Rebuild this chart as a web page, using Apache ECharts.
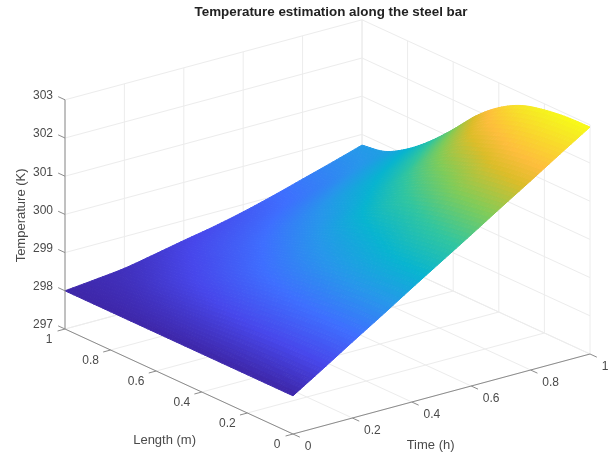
<!DOCTYPE html>
<html>
<head>
<meta charset="utf-8">
<style>
html,body{margin:0;padding:0;background:#fff}
#chart{width:615px;height:457px;filter:blur(0.6px)}
</style>
<script src="https://cdn.jsdelivr.net/npm/echarts@6/dist/echarts.min.js"></script>
</head>
<body>
<div id="chart"></div>
<script>
const titleText = 'Temperature estimation along the steel bar';
const timeName = 'Time (h)';
const lengthName = 'Length (m)';
const tempName = 'Temperature (K)';

const times = [0, 0.1, 0.2, 0.3, 0.4, 0.5, 0.6, 0.7, 0.8, 0.9, 1];
const lengths = [0, 0.1, 0.2, 0.3, 0.4, 0.5, 0.6, 0.7, 0.8, 0.9, 1];
const tempL00 = [298, 298.49, 298.99, 299.48, 299.98, 300.47, 300.96, 301.46, 301.95, 302.45, 302.94];
const tempL01 = [298, 298.47, 298.97, 299.46, 299.94, 300.39, 300.86, 301.36, 301.87, 302.39, 302.92];
const tempL02 = [298, 298.45, 298.93, 299.41, 299.87, 300.28, 300.72, 301.25, 301.74, 302.28, 302.84];
const tempL03 = [298, 298.42, 298.88, 299.32, 299.75, 300.12, 300.54, 301.05, 301.51, 302.08, 302.68];
const tempL04 = [298, 298.38, 298.81, 299.22, 299.6, 299.95, 300.38, 300.8, 301.28, 301.82, 302.35];
const tempL05 = [298, 298.33, 298.72, 299.09, 299.42, 299.75, 300.12, 300.46, 300.9, 301.35, 301.86];
const tempL06 = [298, 298.28, 298.61, 298.93, 299.21, 299.51, 299.8, 300.12, 300.44, 300.82, 301.23];
const tempL07 = [298, 298.22, 298.5, 298.76, 299, 299.27, 299.54, 299.82, 300.08, 300.34, 300.65];
const tempL08 = [298, 298.16, 298.39, 298.6, 298.82, 299.02, 299.25, 299.48, 299.72, 299.96, 300.17];
const tempL09 = [298, 298.11, 298.27, 298.46, 298.65, 298.82, 298.99, 299.18, 299.39, 299.62, 299.83];
const tempL10 = [298, 298.08, 298.17, 298.32, 298.48, 298.63, 298.81, 299.02, 299.25, 299.48, 299.72];
const tempRows = [tempL00, tempL01, tempL02, tempL03, tempL04, tempL05, tempL06, tempL07, tempL08, tempL09, tempL10];

const timeTicks = [0, 0.2, 0.4, 0.6, 0.8, 1];
const timeLabels = ['0', '0.2', '0.4', '0.6', '0.8', '1'];
const lengthTicks = [0, 0.2, 0.4, 0.6, 0.8, 1];
const lengthLabels = ['0', '0.2', '0.4', '0.6', '0.8', '1'];
const tempTicks = [297, 298, 299, 300, 301, 302, 303];
const tempLabels = ['297', '298', '299', '300', '301', '302', '303'];

// parula colormap stops
const parula = [[.2422,.1504,.6603],[.2803,.2782,.9221],[.2440,.4358,.9988],[.1540,.5902,.9218],[.0297,.7082,.8163],[.1938,.7758,.6251],[.5044,.7993,.3480],[.8634,.7406,.1596],[.9956,.7434,.2371],[.9786,.8386,.1766],[.9628,.9373,.1265],[.9769,.9839,.0805]];
const parulaPos = [0, 7/63, 14/63, 21/63, 28/63, 35/63, 42/63, 49/63, 53/63, 57/63, 61/63, 1];
const TMIN = 298, TMAX = 302.94, Z0 = 297;

function color(T) {
  const c = Math.max(0, Math.min(1, (T - TMIN) / (TMAX - TMIN)));
  let k = 0;
  while (k < parulaPos.length - 2 && c > parulaPos[k + 1]) k++;
  const f = (c - parulaPos[k]) / (parulaPos[k + 1] - parulaPos[k]);
  const a = parula[k], b = parula[k + 1];
  return 'rgb(' + [0, 1, 2].map(i => Math.round(255 * (a[i] + (b[i] - a[i]) * f))).join(',') + ')';
}
// orthographic 3D view onto the hidden 2D axes
function project(t, l, T) {
  return [(297 * t + 228 * (1 - l)) / 525, (80 * t + 105 * l + (T - Z0) * 38.2) / 413];
}
function cr(p0, p1, p2, p3, u) {
  return 0.5 * (2 * p1 + (p2 - p0) * u + (2 * p0 - 5 * p1 + 4 * p2 - p3) * u * u + (3 * p1 - p0 - 3 * p2 + p3) * u * u * u);
}
// neighbour of a grid line, continued straight past the ends
function ext(arr, i) {
  const n = arr.length;
  if (i < 0) return 2 * arr[0] - arr[1];
  if (i >= n) return 2 * arr[n - 1] - arr[n - 2];
  return arr[i];
}
function rowAt(j, i, u) {
  const r = tempRows[j];
  return cr(ext(r, i - 1), r[i], r[i + 1], ext(r, i + 2), u);
}
function shade(i, j, u, v) {
  const c1 = rowAt(j, i, u), c2 = rowAt(j + 1, i, u);
  const c0 = j > 0 ? rowAt(j - 1, i, u) : 2 * c1 - c2;
  const c3 = j + 2 < tempRows.length ? rowAt(j + 2, i, u) : 2 * c2 - c1;
  return cr(c0, c1, c2, c3, v);
}

const SUB = 8;
const surfaceData = [];
for (let j = lengths.length - 2; j >= 0; j--) {
  for (let i = times.length - 2; i >= 0; i--) {
    surfaceData.push([i, j, tempRows[j][i]]);
  }
}
function renderSurface(params, api) {
  const i = api.value(0), j = api.value(1);
  const t0 = times[i], t1 = times[i + 1], l0 = lengths[j], l1 = lengths[j + 1];
  const children = [];
  const P = (a, b) => {
    const T = shade(i, j, a / SUB, b / SUB);
    const t = t0 + (t1 - t0) * a / SUB, l = l0 + (l1 - l0) * b / SUB;
    return { c: api.coord(project(t, l, T)), T };
  };
  for (let b = SUB - 1; b >= 0; b--) {
    for (let a = SUB - 1; a >= 0; a--) {
      const p = [P(a, b), P(a + 1, b), P(a + 1, b + 1), P(a, b + 1)];
      const fill = color((p[0].T + p[1].T + p[2].T + p[3].T) / 4);
      children.push({
        type: 'polygon',
        shape: { points: p.map(q => q.c) },
        style: { fill: fill, stroke: fill, lineWidth: 1 },
        silent: true
      });
    }
  }
  return { type: 'group', children };
}

const GRID = '#ececec', AXIS = '#8c8c8c';
function seg(api, a, b, stroke, w) {
  const p = api.coord(project(a[0], a[1], a[2])), q = api.coord(project(b[0], b[1], b[2]));
  return { type: 'line', shape: { x1: p[0], y1: p[1], x2: q[0], y2: q[1] }, style: { stroke, lineWidth: w }, silent: true };
}
function renderBox(params, api) {
  const ch = [];
  const zLo = tempTicks[0], zHi = tempTicks[tempTicks.length - 1];
  timeTicks.forEach(t => {
    ch.push(seg(api, [t, 0, zLo], [t, 1, zLo], GRID, 1));
    ch.push(seg(api, [t, 1, zLo], [t, 1, zHi], GRID, 1));
  });
  lengthTicks.forEach(l => {
    ch.push(seg(api, [0, l, zLo], [1, l, zLo], GRID, 1));
    ch.push(seg(api, [1, l, zLo], [1, l, zHi], GRID, 1));
  });
  tempTicks.forEach(z => {
    ch.push(seg(api, [0, 1, z], [1, 1, z], GRID, 1));
    ch.push(seg(api, [1, 1, z], [1, 0, z], GRID, 1));
  });
  return { type: 'group', children: ch };
}
function renderAxes(params, api) {
  const ch = [];
  const zLo = tempTicks[0], zHi = tempTicks[tempTicks.length - 1];
  ch.push(seg(api, [0, 0, zLo], [1, 0, zLo], AXIS, 1));
  ch.push(seg(api, [0, 0, zLo], [0, 1, zLo], AXIS, 1));
  ch.push(seg(api, [0, 1, zLo], [0, 1, zHi], AXIS, 1));
  timeTicks.forEach(t => ch.push(seg(api, [t, 0, zLo], [t, -0.03, zLo], AXIS, 1)));
  lengthTicks.forEach(l => ch.push(seg(api, [0, l, zLo], [-0.025, l, zLo], AXIS, 1)));
  tempTicks.forEach(z => ch.push(seg(api, [0, 1, z], [0, 1.03, z], AXIS, 1)));
  return { type: 'group', children: ch };
}
const LABEL = '#4a4a4a';
function txt(text, x, y, align, size, rot) {
  return {
    type: 'text', x, y, rotation: rot || 0, silent: true,
    style: { text, fill: LABEL, font: (size || 12) + 'px "Liberation Sans", Arial, sans-serif', textAlign: align || 'center', textVerticalAlign: 'middle' }
  };
}
function renderLabels(params, api) {
  const ch = [];
  const zLo = tempTicks[0];
  timeTicks.forEach((t, k) => {
    const p = api.coord(project(t, 0, zLo));
    ch.push(txt(timeLabels[k], p[0] + (timeLabels[k].length > 1 ? 20 : 15), p[1] + 13));
  });
  lengthTicks.forEach((l, k) => {
    const p = api.coord(project(0, l, zLo));
    ch.push(txt(lengthLabels[k], p[0] - (lengthLabels[k].length > 1 ? 20 : 16), p[1] + 11));
  });
  tempTicks.forEach((z, k) => {
    const p = api.coord(project(0, 1, z));
    ch.push(txt(tempLabels[k], p[0] - 12, p[1] - 4, 'right'));
  });
  const a = api.coord(project(0.47, 0, zLo));
  ch.push(txt(timeName, a[0] - 2, a[1] + 49, 'center', 13));
  const b = api.coord(project(0, 0.55, zLo));
  ch.push(txt(lengthName, b[0] - 3, b[1] + 64, 'center', 13));
  const c = api.coord(project(0, 1, 300));
  ch.push(txt(tempName, c[0] - 44, c[1] + 1, 'center', 13, Math.PI / 2));
  return { type: 'group', children: ch };
}

const chart = echarts.init(document.getElementById('chart'), null, { renderer: 'canvas' });
chart.setOption({
  animation: false,
  backgroundColor: '#ffffff',
  title: {
    text: titleText, left: 326, top: 1, textAlign: 'center',
    textStyle: { fontFamily: '"Liberation Sans", Arial, sans-serif', fontSize: 13.4, fontWeight: 'bold', color: '#222222' }
  },
  grid: { left: 65, right: 25, top: 21, bottom: 23 },
  xAxis: { type: 'value', min: 0, max: 1, show: false },
  yAxis: { type: 'value', min: 0, max: 1, show: false },
  series: [
    { type: 'custom', name: 'box', data: [[0]], renderItem: renderBox, clip: false, silent: true, z: 1 },
    { type: 'custom', name: 'Temperature', data: surfaceData, renderItem: renderSurface, clip: false, silent: true, z: 2, progressive: 0 },
    { type: 'custom', name: 'axes', data: [[0]], renderItem: renderAxes, clip: false, silent: true, z: 3 },
    { type: 'custom', name: 'labels', data: [[0]], renderItem: renderLabels, clip: false, silent: true, z: 4 }
  ]
});
</script>
</body>
</html>
